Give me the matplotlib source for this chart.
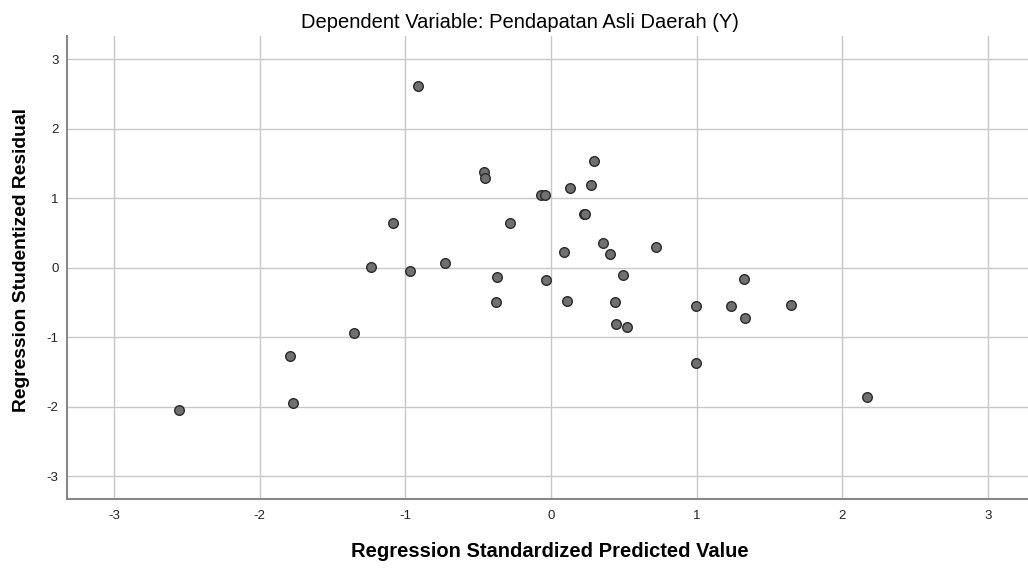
import matplotlib.pyplot as plt

plt.rcParams['font.family'] = ['Liberation Sans', 'DejaVu Sans']
plt.rcParams['axes.unicode_minus'] = False

# standardized predicted value (x) and studentized residual (y)
pred = [-2.553, -1.790, -1.770, -0.911, 0.295, -0.458, -0.451, 0.130, 0.277,
        -0.071, -0.041, 0.225, 0.232, -1.083, -0.279, 0.357, 0.407, 0.721,
        0.089, -1.236, -0.968, -0.726, -0.371, -0.032, 0.497, -0.380, 0.110,
        0.440, 0.446, 0.520, -1.351, 1.326, 0.996, 1.234, 1.648, 1.335,
        0.994, 2.168]
resid = [-2.048, -1.267, -1.952, 2.620, 1.531, 1.378, 1.296, 1.143, 1.186,
         1.042, 1.042, 0.775, 0.770, 0.648, 0.648, 0.351, 0.197, 0.293,
         0.231, 0.015, -0.048, 0.068, -0.134, -0.172, -0.105, -0.499, -0.480,
         -0.499, -0.811, -0.849, -0.945, -0.158, -0.551, -0.547, -0.537, -0.720,
         -1.372, -1.866]

ticks = [-3, -2, -1, 0, 1, 2, 3]

fig = plt.figure(figsize=(10.28, 5.68), dpi=100)
ax = fig.add_axes([0.0649, 0.121, 0.9351, 0.8156])

ax.grid(True, color='#c8c8c8', lw=1.0, zorder=0)
ax.scatter(pred, resid, s=48, facecolor='#707070', edgecolor='#2a2a2a',
           linewidth=1.0, zorder=3)

ax.set_xlim(-3.326, 3.276)
ax.set_ylim(-3.334, 3.335)
ax.set_xticks(ticks)
ax.set_yticks(ticks)
ax.tick_params(length=0, labelsize=9.5, colors='#222222')
ax.tick_params(axis='y', pad=6)
ax.tick_params(axis='x', pad=8)

for s in ['top', 'right']:
    ax.spines[s].set_visible(False)
for s in ['left', 'bottom']:
    ax.spines[s].set_color('#888888')
    ax.spines[s].set_linewidth(1.5)

fig.text(0.506, 0.951, 'Dependent Variable: Pendapatan Asli Daerah (Y)',
         fontsize=14.5, ha='center', va='baseline')
fig.text(0.535, 0.019, 'Regression Standardized Predicted Value',
         fontsize=14.5, fontweight='bold', ha='center', va='baseline')
fig.text(0.0205, 0.542, 'Regression Studentized Residual', rotation=90,
         fontsize=13.9, fontweight='bold', ha='center', va='center')

fig.savefig('out.png', dpi=100)
